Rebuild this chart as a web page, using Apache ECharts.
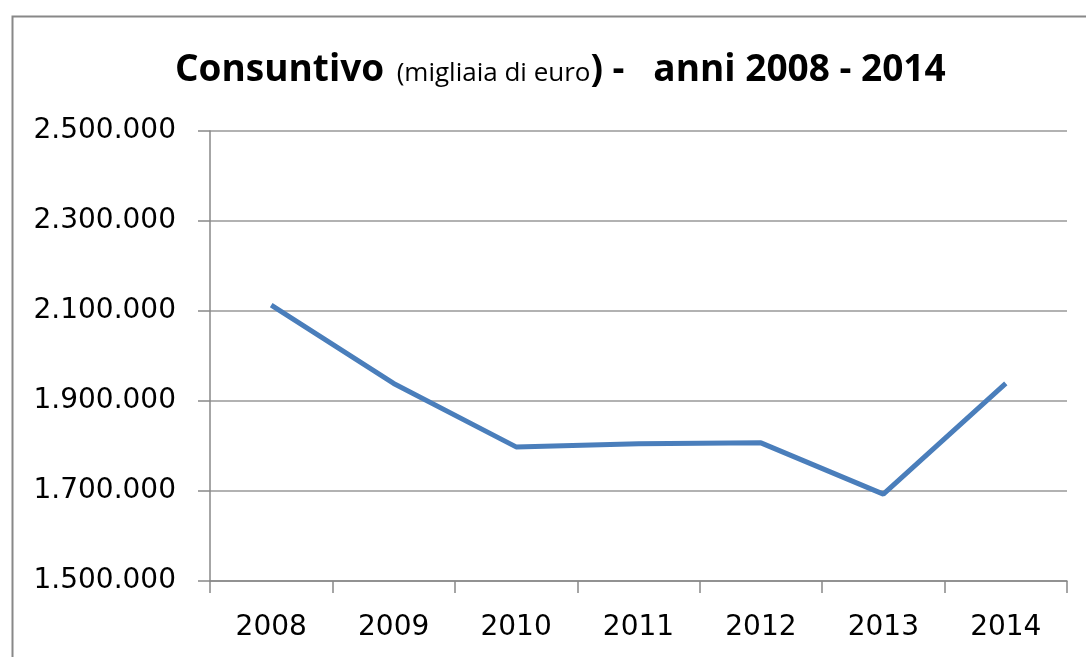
<!DOCTYPE html>
<html>
<head>
<meta charset="utf-8">
<script src="https://cdn.jsdelivr.net/npm/echarts@6/dist/echarts.min.js"></script>
<style>
	html, body { margin: 0; padding: 0; background: #fff; }
	#main { width: 1086px; height: 657px; }
</style>
</head>
<body>
<div id="main"></div>
<script>
var anni = ['2008', '2009', '2010', '2011', '2012', '2013', '2014'];
var consuntivo = [2113000, 1939000, 1798000, 1805000, 1807000, 1693000, 1939000];

var main = echarts.init(document.getElementById('main'));

// formato italiano con punto per le migliaia
function fmt(v) {
	return String(v).replace(/\B(?=(\d{3})+(?!\d))/g, '.');
}

var option = {
	animation: false,
	backgroundColor: '#fff',
	textStyle: { fontFamily: 'DejaVu Sans' },
	graphic: [{
		type: 'rect',
		left: 10,
		top: 14,
		shape: { width: 1100, height: 700 },
		style: { fill: 'none', stroke: '#888', lineWidth: 2 },
		z: 0
	}],
	title: {
		text: '{b|Consuntivo}  {s|(migliaia di euro}{b|) -   anni 2008 - 2014}',
		left: 170,
		top: 47,
		textStyle: {
			rich: {
				b: { fontFamily: 'Open Sans', fontSize: 37, fontWeight: 'bold', color: '#000' },
				s: { fontFamily: 'Open Sans', fontSize: 26, fontWeight: 'normal', color: '#000', padding: [6, 0, 0, 0] }
			}
		}
	},
	grid: {
		left: 210,
		right: 19,
		top: 131,
		bottom: 76
	},
	xAxis: {
		type: 'category',
		data: anni,
		boundaryGap: true,
		axisLine: { lineStyle: { color: '#888', width: 1.5 } },
		axisTick: { show: true, length: 12, lineStyle: { color: '#888', width: 1.5 } },
		axisLabel: { color: '#000', fontSize: 28, margin: 33 }
	},
	yAxis: {
		type: 'value',
		min: 1500000,
		max: 2500000,
		interval: 200000,
		axisLine: { show: true, lineStyle: { color: '#888', width: 1.5 } },
		axisTick: { show: true, length: 12, lineStyle: { color: '#888', width: 1.5 } },
		splitLine: { lineStyle: { color: '#999', width: 1.5 } },
		axisLabel: { color: '#000', fontSize: 28, margin: 34, formatter: fmt }
	},
	series: [{
		name: 'Consuntivo',
		type: 'line',
		data: consuntivo,
		symbol: 'none',
		lineStyle: { color: '#4a7ebb', width: 5 }
	}]
};
main.setOption(option);
</script>
</body>
</html>
